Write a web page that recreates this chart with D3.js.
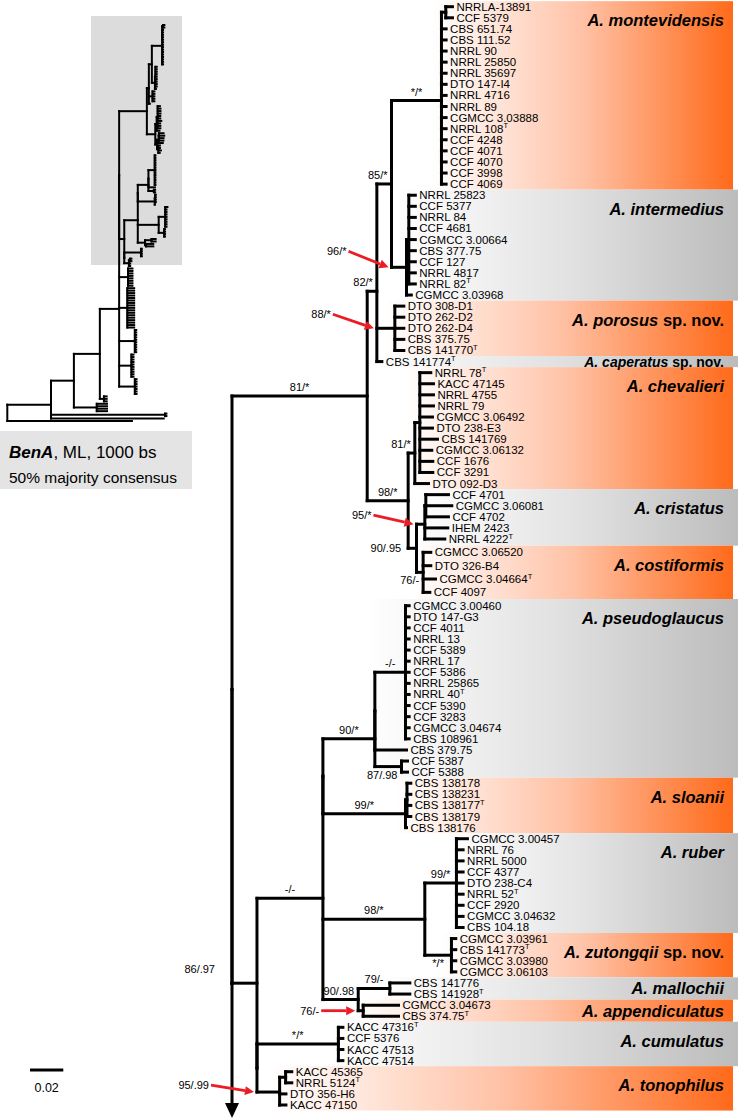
<!DOCTYPE html>
<html><head><meta charset="utf-8">
<script src="https://cdn.jsdelivr.net/npm/d3@7"></script>
<style>
body{margin:0;background:#fff}
svg{display:block}
text{font-family:"Liberation Sans", Arial, Helvetica, sans-serif; fill:#000}
</style>
</head><body>
<svg id="c" width="738" height="1119"></svg>
<script>
// ---------------- DATA ----------------
// Clade subtrees (Newick; branch lengths in substitutions/site, internal labels = ML bootstrap / Bayesian PP)
const montevidensis = "((NRRLA-13891:0.004,CCF 5379:0.004):0.0026,CBS 651.74:0.0028,CBS 111.52:0.0028,NRRL 90:0.0028,NRRL 25850:0.0028,NRRL 35697:0.0028,DTO 147-I4:0.0028,NRRL 4716:0.0028,NRRL 89:0.0028,CGMCC 3.03888:0.0028,NRRL 108^T:0.0028,CCF 4248:0.0028,CCF 4071:0.0028,CCF 4070:0.0028,CCF 3998:0.0028,CCF 4069:0.0028)*/*:0.0300";
const intermedius = "((NRRL 25823:0.0039,CCF 5377:0.0039,NRRL 84:0.0039,CCF 4681:0.0039,CGMCC 3.00664:0.0039,CBS 377.75:0.0039,CCF 127:0.0039,NRRL 4817:0.0039,NRRL 82^T:0.0039):0.0014,CGMCC 3.03968:0.0029)96/*:0.0090";
const porosus = "(DTO 308-D1:0.0054,DTO 262-D2:0.0054,DTO 262-D4:0.0054,CBS 375.75:0.0054,CBS 141770^T:0.0054)88/*:0.0108";
const caperatus = "CBS 141774^T:0.0030";
const chevalieri = "((NRRL 78^T:0.0066,KACC 47145:0.0082,NRRL 4755:0.0082,NRRL 79:0.0082,CGMCC 3.06492:0.0076,DTO 238-E3:0.0076,CBS 141769:0.0106,CGMCC 3.06132:0.0072,CCF 1676:0.0078,CCF 3291:0.0078)81/*:0.0030,DTO 092-D3:0.0082)";
const cristatus = "((CCF 4701:0.0136,CGMCC 3.06081:0.0156,CCF 4702:0.0136):0.0006,IHEM 2423:0.0138,NRRL 4222^T:0.0120)95/*:0.0050";
const costiformis = "(CGMCC 3.06520:0.0046,DTO 326-B4:0.0046,CGMCC 3.04664^T:0.0074,CCF 4097:0.0040)76/-:0.0040";
const pseudoglaucus = "(((CGMCC 3.00460:0.0022,DTO 147-G3:0.0022,CCF 4011:0.0022,NRRL 13:0.0022,CCF 5389:0.0022,NRRL 17:0.0022,CCF 5386:0.0022,NRRL 25865:0.0022,NRRL 40^T:0.0022,CCF 5390:0.0022,CCF 3283:0.0022,CGMCC 3.04674:0.0022,CBS 108961:0.0022)-/-:0.0184,CBS 379.75:0.0190):0,(CCF 5387:0.0036,CCF 5388:0.0036)87/.98:0.0160)90/*:0.0312";
const sloanii = "((CBS 138178:0.0023,CBS 138231:0.0023,CBS 138177^T:0.0023,CBS 138179:0.0023):0.0009,CBS 138176:0.0006)99/*:0.0496";
const ruber = "(CGMCC 3.00457:0.0066,NRRL 76:0.0040,NRRL 5000:0.0040,CCF 4377:0.0040,DTO 238-C4:0.0040,NRRL 52^T:0.0040,CCF 2920:0.0040,CGMCC 3.04632:0.0040,CBS 104.18:0.0040)99/*:0.0190";
const zutongqii = "(CGMCC 3.03961:0.0026,CBS 141773^T:0.0026,CGMCC 3.03980:0.0026,CGMCC 3.06103:0.0026)*/*:0.0160";
const mallochii = "(CBS 141776:0.0120,CBS 141928^T:0.0120)79/-:0.0190";
const appendiculatus = "(CGMCC 3.04673:0.0212,CBS 374.75^T:0.0212)76/-:0.0030";
const cumulatus = "(KACC 47316^T:0.0027,CCF 5376:0.0027,KACC 47513:0.0027,KACC 47514:0.0027)*/*:0.0489";
const tonophilus = "((KACC 45365:0.0037,NRRL 5124^T:0.0037):0.0036,DTO 356-H6:0.0038,KACC 47150:0.0038)95/.99:0.0136";

// Backbone assembled from the clades
const chevalieriClade = chevalieri.replace("81/*:0.0030", ":0.0030") + "81/*:0.0040";
const treeNewick =
  "(((((" + montevidensis + "," + intermedius + ")85/*:0.0088," + porosus + "," + caperatus + ")82/*:0.0058," +
  "(" + chevalieriClade + ",(" + cristatus + "," + costiformis + ")90/.95:0.0050)98/*:0.0246)81/*:0.0812," +
  "((((" + pseudoglaucus + "," + sloanii + "):0,(" + ruber + "," + zutongqii + ")98/*:0.0612,(" + mallochii + "," + appendiculatus + ")90/.98:0.0212)-/-:0.0396," +
  "(" + cumulatus + "," + tonophilus + "):0)86/.97:0.0150);";

const cladeNames = ["A. montevidensis","A. intermedius","A. porosus sp. nov.","A. caperatus sp. nov.","A. chevalieri","A. cristatus","A. costiformis","A. pseudoglaucus","A. sloanii","A. ruber","A. zutongqii sp. nov.","A. mallochii","A. appendiculatus","A. cumulatus","A. tonophilus"];
const cladeSizes = [17,10,5,1,11,5,4,16,5,9,4,2,2,4,4];
const cladeTone  = ["orange","gray","orange","gray","orange","gray","orange","gray","orange","gray","orange","gray","orange","gray","orange"];

// Overview (whole tree) — rest of the tree beyond the ingroup shown
const overviewBackbone = "((((INGROUP:0.0565,(:0.008,:0.008,:0.008):0.012):0.076,(:0.03,:0.03,:0.03,:0.03):0.067):0.067,(:0.004,:0.004):0.334,:0.33):0.128,:0.365);";
const overviewCladeSizes = [8,17,10,10,7];
const overviewCladeStems = [0.026,0.024,0.046,0.036,0.046];
const overviewCladeTips  = [0.013,0.02,0.004,0.006,0.005];

const scaleBarValue = 0.02;
const legendTitle = ["BenA", ", ML, 1000 bs"];
const legendSub = "50% majority consensus";

// ---------------- HELPERS ----------------
function parseNewick(s) {
  let i = 0;
  function node() {
    const n = {children: [], name: "", length: 0};
    if (s[i] === "(") {
      i++;
      n.children.push(node());
      while (s[i] === ",") { i++; n.children.push(node()); }
      i++;
    }
    let name = "";
    while (i < s.length && !"(),:;".includes(s[i])) name += s[i++];
    n.name = name.trim();
    if (s[i] === ":") {
      i++; let num = "";
      while (i < s.length && !"(),;".includes(s[i])) num += s[i++];
      n.length = +num;
    }
    return n;
  }
  return node();
}
function layout(root, yScale) {
  root.eachBefore(d => d.dist = d.parent ? d.parent.dist + d.data.length : 0);
  const leaves = root.leaves();
  leaves.forEach((d, i) => { d.idx = i; d.y = yScale(i); });
  root.eachAfter(d => {
    if (d.children) {
      d.y = d3.mean(d.children, c => c.y);
      d.lo = d.children[0].lo; d.hi = d.children[d.children.length - 1].hi;
    } else { d.lo = d.idx; d.hi = d.idx; }
  });
  return leaves;
}
function segments(root, xs, skipRootVertical) {
  const segs = [];
  root.each(d => {
    if (d.children && !(skipRootVertical && d === root)) {
      segs.push([xs(d.dist), d.children[0].y, xs(d.dist), d.children[d.children.length-1].y]);
    }
    if (d.parent) segs.push([xs(d.parent.dist), d.y, xs(d.dist), d.y]);
  });
  return segs;
}

// ---------------- DRAW ----------------
const svg = d3.select("#c");
const defs = svg.append("defs");
const gO = defs.append("linearGradient").attr("id","gO");
gO.append("stop").attr("offset","0%").attr("stop-color","#ffffff");
gO.append("stop").attr("offset","50%").attr("stop-color","#ffc2a6");
gO.append("stop").attr("offset","100%").attr("stop-color","#ff6a1a");
const gG = defs.append("linearGradient").attr("id","gG");
gG.append("stop").attr("offset","0%").attr("stop-color","#ffffff");
gG.append("stop").attr("offset","50%").attr("stop-color","#e2e2e2");
gG.append("stop").attr("offset","100%").attr("stop-color","#bcbcbc");

// main tree
const mainRoot = d3.hierarchy(parseNewick(treeNewick), d => d.children.length ? d.children : null);
const yMain = d3.scaleLinear().domain([0, 48, 53, 98]).range([6.7, 539, 605.7, 1105]);
const xMain = d3.scaleLinear().domain([0, scaleBarValue]).range([232, 265.3]);
const leaves = layout(mainRoot, yMain);

// bands
const bandLayer = svg.append("g");
const labelLayer = svg.append("g");
let start = 0;
cladeSizes.forEach((n, k) => {
  const lo = start, hi = start + n - 1; start += n;
  const node = mainRoot.descendants().find(d => d.lo === lo && d.hi === hi);
  const nx = node.children ? xMain(node.dist) : xMain(node.parent.dist);
  const top = Math.max(0, (yMain(lo) + yMain(lo - 1)) / 2);
  const bot = (yMain(hi) + yMain(hi + 1)) / 2;
  const x0 = nx - 10;
  const x1 = cladeTone[k] === "orange" ? 733 : 738;
  bandLayer.append("rect").attr("x", x0).attr("y", top).attr("width", x1 - x0).attr("height", bot - top)
    .attr("fill", cladeTone[k] === "orange" ? "url(#gO)" : "url(#gG)");
  const h = bot - top;
  const t = labelLayer.append("text").attr("x", 724).attr("y", top + Math.min(19, h / 2))
    .attr("text-anchor","end").attr("dominant-baseline","central")
    .attr("font-weight","bold").attr("font-size", h < 16 ? 14 : 16.5);
  const base = cladeNames[k].replace(" sp. nov.", "");
  t.append("tspan").attr("font-style","italic").text(base);
  if (cladeNames[k].includes("sp. nov.")) t.append("tspan").attr("font-style","normal").text(" sp. nov.");
});

// branches
const treeG = svg.append("g").attr("stroke","#000").attr("stroke-width",3).attr("stroke-linecap","square");
const segs = segments(mainRoot, xMain, true);
treeG.selectAll("line.s").data(segs).join("line").attr("class","s")
  .attr("x1", d => d[0]).attr("y1", d => d[1]).attr("x2", d => d[2]).attr("y2", d => d[3]);
// root line extending to the outgroup arrow
const rootX = xMain(0);
treeG.append("line").attr("x1", rootX).attr("x2", rootX).attr("y1", mainRoot.children[0].y).attr("y2", 1103);
svg.append("path").attr("d", `M${rootX-7},1103 L${rootX+7},1103 L${rootX},1118 Z`).attr("fill","#000");

// leaf labels
const leafG = svg.append("g").attr("font-size", 11.5);
leaves.forEach(d => {
  const t = leafG.append("text").attr("x", xMain(d.dist) + 4).attr("y", d.y).attr("dominant-baseline","central");
  const nm = d.data.name;
  if (nm.endsWith("^T")) {
    t.append("tspan").text(nm.slice(0, -2));
    t.append("tspan").attr("font-size", 7.5).attr("dy", -3.5).text("T");
  } else t.text(nm);
});

// support labels
const arrowPlacement = {
  "NRRL 25823|CGMCC 3.03968": [-40, -16],
  "DTO 308-D1|CBS 141770^T": [-41, -14],
  "CCF 4701|NRRL 4222^T": [-40, -9],
  "CGMCC 3.04673|CBS 374.75^T": [-34, 0],
  "KACC 45365|KACC 47150": [-43, -7]
};
const otherPlacement = {
  "CCF 4701|CCF 4097": "left",
  "CGMCC 3.00460|KACC 47150": "leftAbove",
  "CCF 5387|CCF 5388": "below",
  "CGMCC 3.03961|CGMCC 3.06103": "below",
  "CGMCC 3.06520|CCF 4097": "below"
};
const supG = svg.append("g").attr("font-size", 11);
const arrowG = svg.append("g");
mainRoot.descendants().forEach(d => {
  if (!d.children || !d.parent || !d.data.name) return;
  const key = leaves[d.lo].data.name + "|" + leaves[d.hi].data.name;
  const px = xMain(d.parent.dist), x = xMain(d.dist), y = d.y;
  const t = supG.append("text").text(d.data.name);
  const w = t.node().getComputedTextLength();
  if (arrowPlacement[key]) {
    const [dx, dy] = arrowPlacement[key];
    const tx = px - 3, ty = y, sx = tx + dx, sy = ty + dy;
    t.attr("x", sx - 2).attr("y", sy + 4).attr("text-anchor","end");
    const ang = Math.atan2(ty - sy, tx - sx), L = 9, W = 4.5;
    const bx = tx - L * Math.cos(ang), by = ty - L * Math.sin(ang);
    arrowG.append("line").attr("x1", sx).attr("y1", sy).attr("x2", bx).attr("y2", by)
      .attr("stroke","#ec1c24").attr("stroke-width",2.8);
    arrowG.append("path").attr("fill","#ec1c24")
      .attr("d", `M${tx},${ty} L${bx - W*Math.sin(ang)},${by + W*Math.cos(ang)} L${bx + W*Math.sin(ang)},${by - W*Math.cos(ang)} Z`);
    return;
  }
  const mode = otherPlacement[key] || "above";
  if (mode === "left") { t.attr("x", px - 7).attr("y", y + 4).attr("text-anchor","end"); return; }
  if (mode === "leftAbove") { t.attr("x", px - 17).attr("y", y - 10).attr("text-anchor","end"); return; }
  let cx = (px + x) / 2;
  if (cx + w / 2 > x - 4) cx = x - 4 - w / 2;
  t.attr("x", cx).attr("text-anchor","middle").attr("y", mode === "below" ? y + 12 : y - 5);
});

// ---------------- OVERVIEW (thumbnail) ----------------
svg.append("rect").attr("x", 91).attr("y", 16).attr("width", 91).attr("height", 249).attr("fill", "#dcdcdc");
const ovData = parseNewick(overviewBackbone);
const ingroupCopy = parseNewick(treeNewick);
const extras = overviewCladeSizes.map((n, k) => ({
  name: "", length: overviewCladeStems[k],
  children: d3.range(n).map(() => ({name: "", length: overviewCladeTips[k], children: []}))
}));
(function replace(n) {
  n.children.forEach((c, i) => {
    if (c.name === "INGROUP") n.children[i] = {name: "", length: c.length, children: ingroupCopy.children.concat(extras)};
    else replace(c);
  });
})(ovData);
const ovRoot = d3.hierarchy(ovData, d => d.children.length ? d.children : null);
const nOv = ovRoot.leaves().length;
const yOv = d3.scaleLinear().domain([0, nOv - 1]).range([25, 421]);
const xOv = d3.scaleLinear().domain([0, 1]).range([7.3, 348.8]);
layout(ovRoot, yOv);
const ovSegs = segments(ovRoot, xOv, false);
svg.append("g").attr("stroke","#000").attr("stroke-width",2).attr("stroke-linecap","square")
  .selectAll("line").data(ovSegs).join("line")
  .attr("x1", d => d[0]).attr("y1", d => d[1]).attr("x2", d => d[2]).attr("y2", d => d[3]);

// legend box
svg.append("rect").attr("x", 0).attr("y", 431).attr("width", 192).attr("height", 58).attr("fill", "#e4e4e4");
const lt = svg.append("text").attr("x", 9).attr("y", 458).attr("font-size", 17);
lt.append("tspan").attr("font-weight","bold").attr("font-style","italic").text(legendTitle[0]);
lt.append("tspan").text(legendTitle[1]);
svg.append("text").attr("x", 9).attr("y", 483).attr("font-size", 15.5).text(legendSub);

// scale bar
const barLen = xMain(scaleBarValue) - xMain(0);
svg.append("line").attr("x1", 30).attr("x2", 30 + barLen).attr("y1", 1070).attr("y2", 1070)
  .attr("stroke","#000").attr("stroke-width",3);
svg.append("text").attr("x", 30 + barLen / 2).attr("y", 1088).attr("text-anchor","middle")
  .attr("dominant-baseline","central").attr("font-size", 12.5).text(String(scaleBarValue));
</script>
</body></html>
